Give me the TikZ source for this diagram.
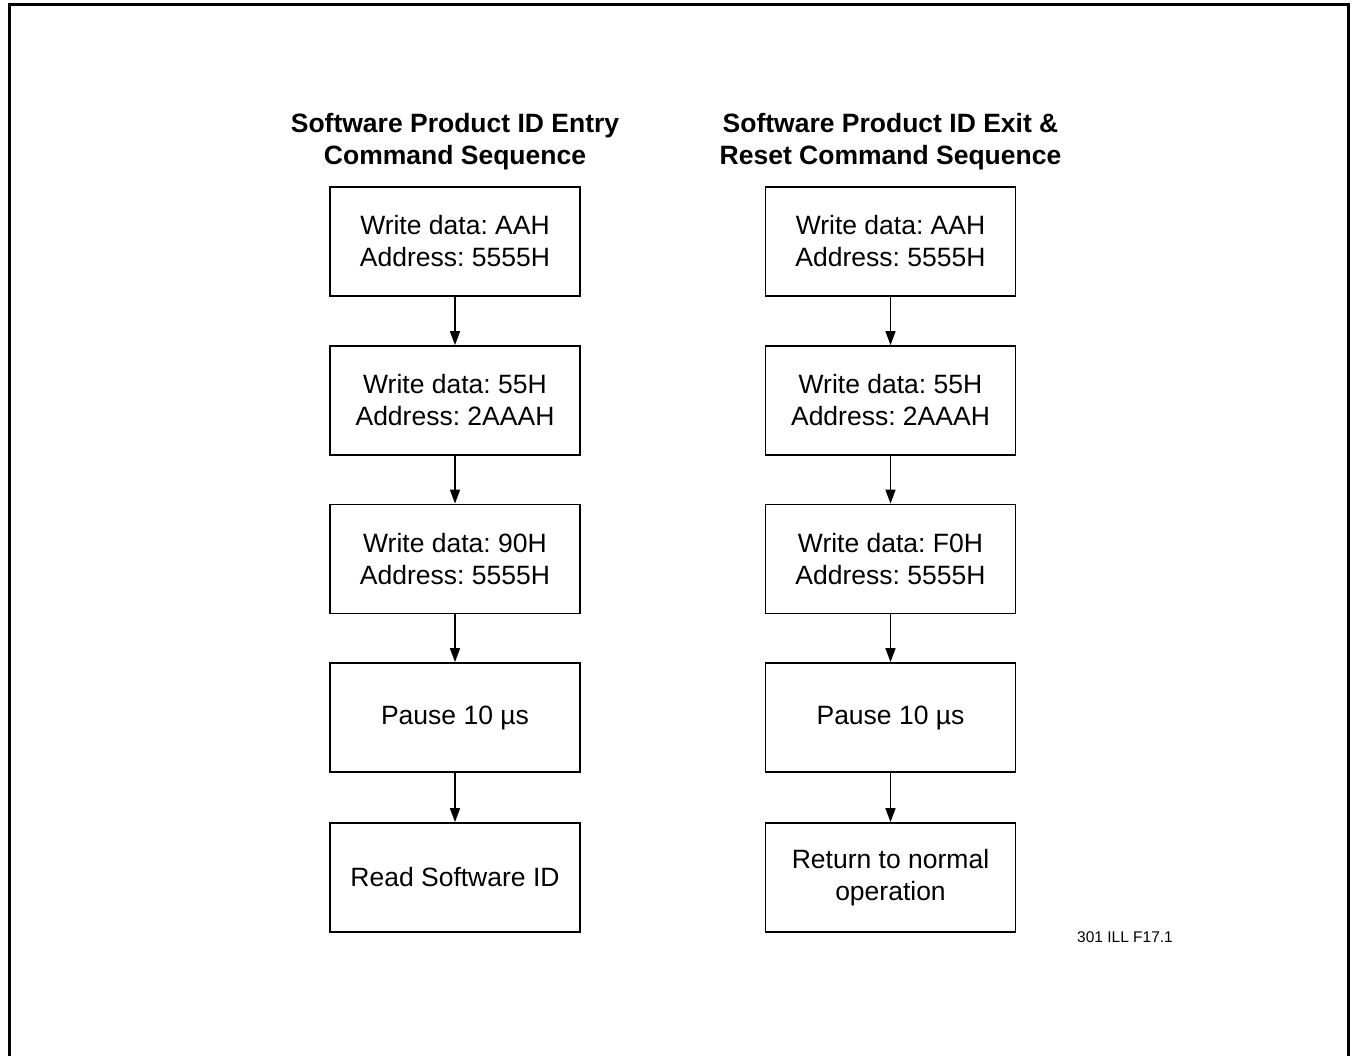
\documentclass[tikz,border=0pt]{standalone}
\usepackage{fontspec}
\setmainfont{Liberation Sans}
\usetikzlibrary{arrows.meta}
\frenchspacing
\begin{document}
\begin{tikzpicture}[x=1pt,y=-1pt,
  stepbox/.style={draw, line width=1.8pt, minimum width=250pt, minimum height=109pt, align=center, font=\fontsize{26.5}{32}\selectfont, inner sep=0pt},
  titletext/.style={align=center, font=\fontsize{26.5}{32}\selectfont\bfseries},
  flow/.style={-{Triangle[width=10pt,length=14pt]}, line width=1.6pt},
  frameline/.style={line width=3pt}]
\useasboundingbox (0,0) rectangle (1353,1056);
\coordinate (fa) at (9,1056);
\coordinate (fb) at (9,5);
\coordinate (fc) at (1348,5);
\coordinate (fd) at (1348,1056);
\draw[frameline] (fa) -- (fb) -- (fc) -- (fd);

\node[titletext] (t1) at (455,142) {Software Product ID Entry\\Command Sequence};
\node[titletext] (t2) at (890.5,142) {Software Product ID Exit \&\\Reset Command Sequence};

\node[stepbox] (a1) at (455,241.5) {Write data: AAH\\Address: 5555H};
\node[stepbox] (a2) at (455,400.5) {Write data: 55H\\Address: 2AAAH};
\node[stepbox] (a3) at (455,559) {Write data: 90H\\Address: 5555H};
\node[stepbox] (a4) at (455,717.5) {Pause 10 µs};
\node[stepbox] (a5) at (455,877.5) {Read Software ID};

\node[stepbox] (b1) at (890.5,241.5) {Write data: AAH\\Address: 5555H};
\node[stepbox] (b2) at (890.5,400.5) {Write data: 55H\\Address: 2AAAH};
\node[stepbox] (b3) at (890.5,559) {Write data: F0H\\Address: 5555H};
\node[stepbox] (b4) at (890.5,717.5) {Pause 10 µs};
\node[stepbox] (b5) at (890.5,877.5) {Return to normal\\operation};

\foreach \p/\q in {a1/a2,a2/a3,a3/a4,a4/a5,b1/b2,b2/b3,b3/b4,b4/b5}
  \draw[flow] (\p.south) -- (\q.north);

\node[font=\fontsize{15.5}{18}\selectfont] (lbl) at (1125,937) {301 ILL F17.1};
\end{tikzpicture}
\end{document}
